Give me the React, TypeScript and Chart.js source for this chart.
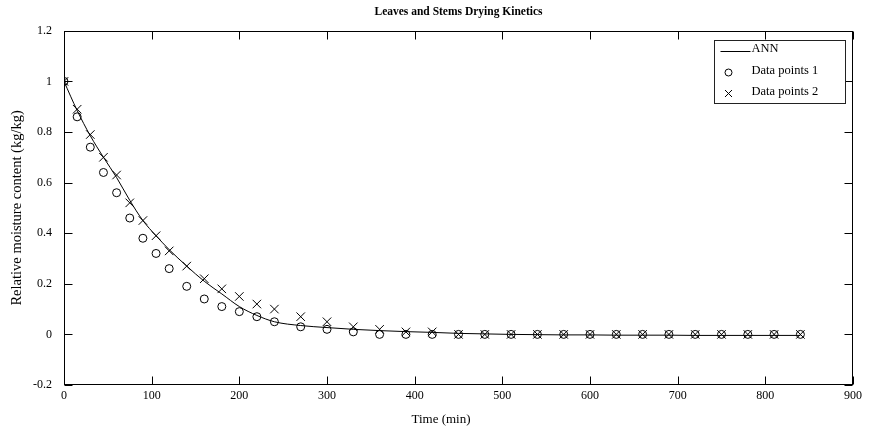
import React, { useEffect, useRef } from "react";
import { Chart, registerables } from "chart.js";

Chart.register(...registerables);

const FONT = "'Liberation Serif', 'Times New Roman', serif";

const chartTitle = "Leaves and Stems Drying Kinetics";
const xAxisTitle = "Time (min)";
const yAxisTitle = "Relative moisture content (kg/kg)";
const legendLabels = ["ANN", "Data points 1", "Data points 2"];

const xTickValues = [0, 100, 200, 300, 400, 500, 600, 700, 800, 900];
const yTickValues = [-0.2, 0, 0.2, 0.4, 0.6, 0.8, 1, 1.2];

const sampleTimes = [
  0, 15, 30, 45, 60, 75, 90, 105, 120, 140, 160, 180, 200, 220, 240, 270, 300,
  330, 360, 390, 420, 450, 480, 510, 540, 570, 600, 630, 660, 690, 720, 750,
  780, 810, 840,
];

const dataPoints1 = [
  1.0, 0.86, 0.74, 0.64, 0.56, 0.46, 0.38, 0.32, 0.26, 0.19, 0.14, 0.11, 0.09,
  0.07, 0.05, 0.03, 0.02, 0.01, 0.0, 0.0, 0.0, 0.0, 0.0, 0.0, 0.0, 0.0, 0.0,
  0.0, 0.0, 0.0, 0.0, 0.0, 0.0, 0.0, 0.0,
];

const dataPoints2 = [
  1.0, 0.89, 0.79, 0.7, 0.63, 0.52, 0.45, 0.39, 0.33, 0.27, 0.22, 0.18, 0.15,
  0.12, 0.1, 0.07, 0.05, 0.03, 0.02, 0.01, 0.01, 0.0, 0.0, 0.0, 0.0, 0.0, 0.0,
  0.0, 0.0, 0.0, 0.0, 0.0, 0.0, 0.0, 0.0,
];

const annTimes = sampleTimes;
const annValues = [
  1.0, 0.885, 0.785, 0.7, 0.62, 0.53, 0.45, 0.39, 0.335, 0.27, 0.21, 0.16,
  0.11, 0.075, 0.05, 0.035, 0.027, 0.02, 0.015, 0.011, 0.008, 0.004, 0.002,
  0.0, -0.001, -0.002, -0.002, -0.003, -0.003, -0.003, -0.004, -0.004, -0.004,
  -0.004, -0.004,
];

const toXY = (xs: number[], ys: number[]) => xs.map((x, i) => ({ x, y: ys[i] }));

const frameTicksPlugin = {
  id: "frameTicks",
  afterLayout(chart: any) {
    const tb = chart.titleBlock;
    if (tb) {
      tb.left = chart.chartArea.left;
      tb.right = chart.chartArea.right;
      tb.width = tb.right - tb.left;
    }
  },
  afterDraw(chart: any) {
    const { ctx, chartArea, scales } = chart;
    const { left, right, top, bottom } = chartArea;
    const L = Math.round(left) + 0.5;
    const R = Math.round(right) - 0.5;
    const T = Math.round(top) + 0.5;
    const B = Math.round(bottom) - 0.5;
    const len = 8;
    ctx.save();
    ctx.strokeStyle = "#000";
    ctx.lineWidth = 1;
    ctx.beginPath();
    xTickValues.forEach((v) => {
      const px = Math.round(scales.x.getPixelForValue(v)) + 0.5;
      ctx.moveTo(px, B);
      ctx.lineTo(px, B - len);
      ctx.moveTo(px, T);
      ctx.lineTo(px, T + len);
    });
    yTickValues.forEach((v) => {
      const py = Math.round(scales.y.getPixelForValue(v)) + 0.5;
      ctx.moveTo(L, py);
      ctx.lineTo(L + len, py);
      ctx.moveTo(R, py);
      ctx.lineTo(R - len, py);
    });
    ctx.stroke();
    ctx.strokeRect(L, T, R - L, B - T);

    // x axis title
    ctx.fillStyle = "#000";
    ctx.font = `13px ${FONT}`;
    ctx.textAlign = "center";
    ctx.textBaseline = "middle";
    ctx.fillText(xAxisTitle, 441, 420);

    // legend box
    const boxW = 131;
    const boxH = 63;
    const bx = Math.round(right) - 8 - boxW + 0.5;
    const by = Math.round(top) + 9 + 0.5;
    ctx.fillStyle = "#fff";
    ctx.fillRect(bx, by, boxW, boxH);
    ctx.strokeStyle = "#222";
    ctx.strokeRect(bx, by, boxW, boxH);

    ctx.fillStyle = "#000";
    ctx.strokeStyle = "#000";
    ctx.font = `12.5px ${FONT}`;
    ctx.textBaseline = "middle";
    ctx.textAlign = "left";
    // row 1: line
    ctx.beginPath();
    ctx.moveTo(bx + 6, by + 11);
    ctx.lineTo(bx + 36, by + 11);
    ctx.stroke();
    ctx.fillText(legendLabels[0], bx + 37, by + 8);
    // row 2: circle
    ctx.beginPath();
    ctx.arc(bx + 14, by + 32, 3.5, 0, Math.PI * 2);
    ctx.stroke();
    ctx.fillText(legendLabels[1], bx + 37, by + 30);
    // row 3: cross
    const cx = bx + 14;
    const cy = by + 53;
    ctx.beginPath();
    ctx.moveTo(cx - 3.5, cy - 3.5);
    ctx.lineTo(cx + 3.5, cy + 3.5);
    ctx.moveTo(cx + 3.5, cy - 3.5);
    ctx.lineTo(cx - 3.5, cy + 3.5);
    ctx.stroke();
    ctx.fillText(legendLabels[2], bx + 37, by + 51);
    ctx.restore();
  },
};

export default function App() {
  const canvasRef = useRef<HTMLCanvasElement | null>(null);

  useEffect(() => {
    if (!canvasRef.current) return;
    const chart = new Chart(canvasRef.current, {
      type: "scatter",
      data: {
        datasets: [
          {
            label: legendLabels[1],
            data: toXY(sampleTimes, dataPoints1),
            pointStyle: "circle",
            pointRadius: 4,
            pointBorderWidth: 1,
            borderColor: "#000",
            backgroundColor: "rgba(0,0,0,0)",
            showLine: false,
            order: 3,
          },
          {
            label: legendLabels[2],
            data: toXY(sampleTimes, dataPoints2),
            pointStyle: "crossRot",
            pointRadius: 6,
            pointBorderWidth: 1,
            borderColor: "#000",
            backgroundColor: "#000",
            showLine: false,
            order: 2,
          },
          {
            label: legendLabels[0],
            data: toXY(annTimes, annValues),
            showLine: true,
            borderColor: "#000",
            borderWidth: 1,
            pointRadius: 0,
            cubicInterpolationMode: "monotone",
            fill: false,
            order: 1,
          },
        ],
      },
      options: {
        animation: false,
        responsive: false,
        maintainAspectRatio: false,
        devicePixelRatio: 1,
        layout: { padding: { left: 0, right: 16, top: 0, bottom: 0 } },
        plugins: {
          legend: { display: false },
          tooltip: { enabled: false },
          title: {
            display: true,
            text: chartTitle,
            color: "#000",
            font: { family: FONT, size: 11.5, weight: "bold" },
            padding: { top: 5, bottom: 12 },
          },
        },
        scales: {
          x: {
            type: "linear",
            min: 0,
            max: 900,
            grid: { display: false, drawTicks: false },
            border: { display: false },
            afterFit: (s: any) => {
              s.height = 45;
            },
            afterBuildTicks: (s: any) => {
              s.ticks = xTickValues.map((v) => ({ value: v }));
            },
            ticks: {
              color: "#000",
              font: { family: FONT, size: 12 },
              padding: 4,
              maxRotation: 0,
              callback: (v: any) => String(v),
            },
            title: { display: false, text: xAxisTitle },
          },
          y: {
            type: "linear",
            min: -0.2,
            max: 1.2,
            grid: { display: false, drawTicks: false },
            border: { display: false },
            afterFit: (s: any) => {
              s.width = 64;
            },
            afterBuildTicks: (s: any) => {
              s.ticks = yTickValues.map((v) => ({ value: v }));
            },
            ticks: {
              color: "#000",
              font: { family: FONT, size: 12 },
              padding: 12,
              callback: (v: any) => String(Number(Number(v).toFixed(1))),
            },
            title: {
              display: true,
              text: yAxisTitle,
              color: "#000",
              font: { family: FONT, size: 14.5 },
              padding: { top: 8, bottom: 0 },
            },
          },
        },
      },
      plugins: [frameTicksPlugin],
    });
    return () => chart.destroy();
  }, []);

  return (
    <div
      style={{
        position: "fixed",
        left: 0,
        top: 0,
        width: 869,
        height: 430,
        background: "#fff",
      }}
    >
      <canvas ref={canvasRef} width={869} height={430} />
    </div>
  );
}
